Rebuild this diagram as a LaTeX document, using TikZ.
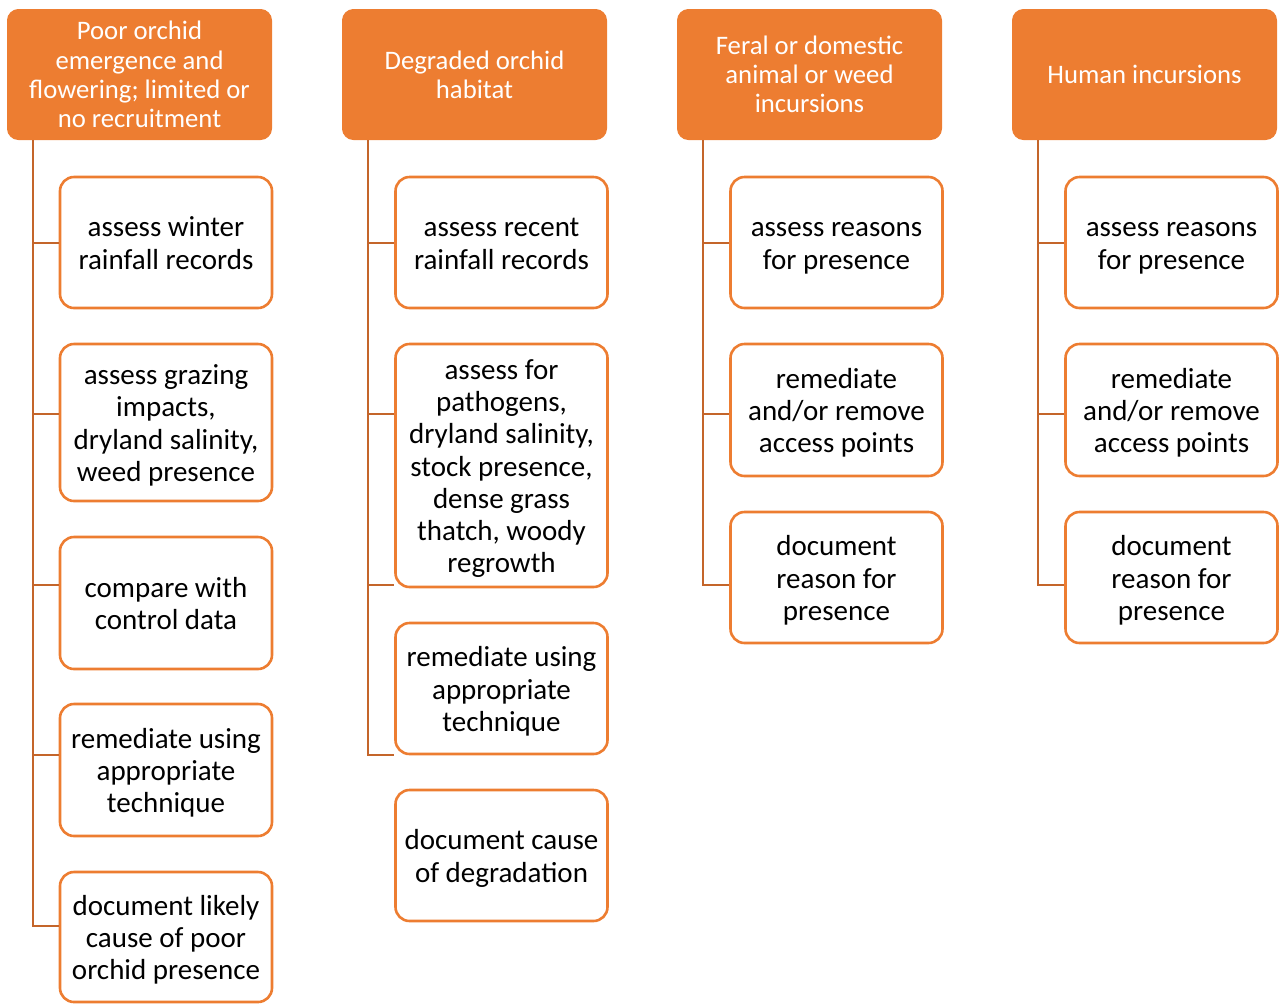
\documentclass[tikz,border=0pt]{standalone}
\usepackage{fontspec}
\setmainfont{Carlito}
\definecolor{hdrorange}{HTML}{ED7D31}
\definecolor{linkbrown}{HTML}{C4652A}
% uniform first-line height and last-line depth so every step text is centred alike
\newcommand\topstrut{\rule{0pt}{27pt}}
\newcommand\botstrut{\rule[-6pt]{0pt}{0pt}}
\newcommand\steptext[2]{\topstrut#1\\#2\botstrut}
\tikzset{
  hdr/.style={fill=hdrorange, draw=hdrorange, line width=1pt, rounded corners=11pt,
    minimum width=264pt, minimum height=130pt, text=white, align=center, inner sep=0pt,
    font=\fontsize{26.7}{29.3}\selectfont},
  item/.style={draw=hdrorange, line width=2.6pt, rounded corners=14pt, fill=white,
    minimum width=212pt, text=black, align=center, inner sep=0pt,
    font=\fontsize{29}{32.3}\selectfont},
  link/.style={draw=linkbrown, line width=2.6pt}
}
\begin{document}
\begin{tikzpicture}[x=1pt, y=-1pt]
\useasboundingbox (0,0) rectangle (1279,1005);

% column headers
\node[hdr] (h1) at (139.5,74.5) {Poor orchid\\emergence and\\flowering; limited or\\no recruitment};
\node[hdr] (h2) at (474.5,74.5) {Degraded orchid\\habitat};
\node[hdr] (h3) at (809.5,74.5) {Feral or domestic\\animal or weed\\incursions};
\node[hdr] (h4) at (1144.5,74.5) {Human incursions};

% column 1 steps
\node[item, minimum height=131pt] (c1a) at (166,242.5) {\steptext{assess winter}{rainfall records}};
\node[item, minimum height=157pt] (c1b) at (166,422.5) {\steptext{assess grazing}{impacts,\\dryland salinity,\\weed presence}};
\node[item, minimum height=132pt] (c1c) at (166,603) {\steptext{compare with}{control data}};
\node[item, minimum height=132pt] (c1d) at (166,770) {\steptext{remediate using}{appropriate\\technique}};
\node[item, minimum height=130pt] (c1e) at (166,937) {\steptext{document likely}{cause of poor\\orchid presence}};

% column 2 steps
\node[item, minimum height=131pt] (c2a) at (501.5,242.5) {\steptext{assess recent}{rainfall records}};
\node[item, minimum height=243pt] (c2b) at (501.5,465.5) {\steptext{assess for}{pathogens,\\dryland salinity,\\stock presence,\\dense grass\\thatch, woody\\regrowth}};
\node[item, minimum height=131pt] (c2c) at (501.5,688.5) {\steptext{remediate using}{appropriate\\technique}};
\node[item, minimum height=131pt] (c2d) at (501.5,855.5) {\steptext{document cause}{of degradation}};

% column 3 steps
\node[item, minimum height=131pt] (c3a) at (836.5,242.5) {\steptext{assess reasons}{for presence}};
\node[item, minimum height=132pt] (c3b) at (836.5,410) {\steptext{remediate}{and/or remove\\access points}};
\node[item, minimum height=131pt] (c3c) at (836.5,577.5) {\steptext{document}{reason for\\presence}};

% column 4 steps
\node[item, minimum height=131pt] (c4a) at (1171.5,242.5) {\steptext{assess reasons}{for presence}};
\node[item, minimum height=132pt] (c4b) at (1171.5,410) {\steptext{remediate}{and/or remove\\access points}};
\node[item, minimum height=131pt] (c4c) at (1171.5,577.5) {\steptext{document}{reason for\\presence}};

% branch points on each spine
\coordinate (k1a) at (33,243);  \coordinate (k1b) at (33,414);  \coordinate (k1c) at (33,585);
\coordinate (k1d) at (33,755);  \coordinate (k1e) at (33,926);
\coordinate (k2a) at (368,243); \coordinate (k2b) at (368,414); \coordinate (k2c) at (368,585);
\coordinate (k2d) at (368,755);
\coordinate (k3a) at (703,243); \coordinate (k3b) at (703,414); \coordinate (k3c) at (703,585);
\coordinate (k4a) at (1038,243); \coordinate (k4b) at (1038,414); \coordinate (k4c) at (1038,585);

% spines and branches
\draw[link] (h1.south -| k1a) -- (k1e) -- (k1e -| c1e.west);
\draw[link] (k1a) -- (k1a -| c1a.west);
\draw[link] (k1b) -- (k1b -| c1b.west);
\draw[link] (k1c) -- (k1c -| c1c.west);
\draw[link] (k1d) -- (k1d -| c1d.west);

\draw[link] (h2.south -| k2a) -- (k2d) -- (k2d -| c2c.west);
\draw[link] (k2a) -- (k2a -| c2a.west);
\draw[link] (k2b) -- (k2b -| c2b.west);
\draw[link] (k2c) -- (k2c -| c2b.west);

\draw[link] (h3.south -| k3a) -- (k3c) -- (k3c -| c3c.west);
\draw[link] (k3a) -- (k3a -| c3a.west);
\draw[link] (k3b) -- (k3b -| c3b.west);

\draw[link] (h4.south -| k4a) -- (k4c) -- (k4c -| c4c.west);
\draw[link] (k4a) -- (k4a -| c4a.west);
\draw[link] (k4b) -- (k4b -| c4b.west);
\end{tikzpicture}
\end{document}
